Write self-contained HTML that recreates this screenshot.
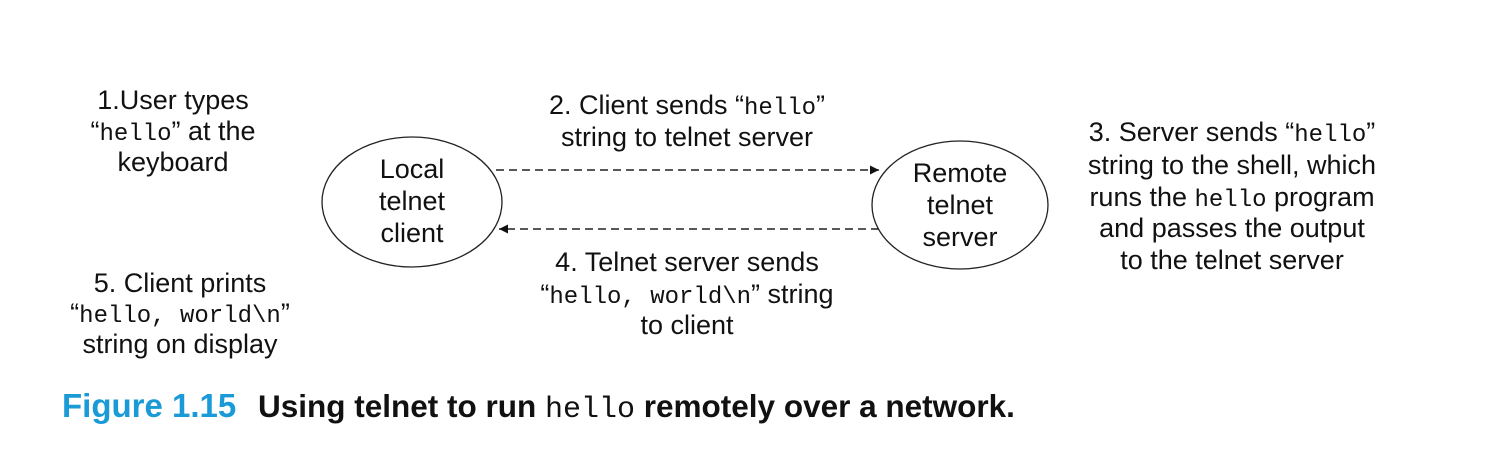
<!DOCTYPE html>
<html><head><meta charset="utf-8"><style>
html,body{margin:0;padding:0;background:#fff;}
svg{display:block;}
text{font-family:"Liberation Sans",sans-serif;font-size:27px;fill:#111;}
.m{font-family:"Liberation Mono",monospace;font-size:24px;}
</style></head><body>
<svg width="1486" height="472" viewBox="0 0 1486 472">
<defs><marker id="a" viewBox="0 0 10 10" refX="10" refY="5" markerWidth="9" markerHeight="9" orient="auto" markerUnits="userSpaceOnUse"><path d="M0,0L10,5L0,10z" fill="#111"/></marker></defs>
<ellipse cx="412" cy="202" rx="90" ry="65" fill="none" stroke="#222" stroke-width="1.3"/>
<ellipse cx="960" cy="205" rx="88" ry="64" fill="none" stroke="#222" stroke-width="1.3"/>
<line x1="496" y1="170" x2="879" y2="170" stroke="#222" stroke-width="1.5" stroke-dasharray="8,5" marker-end="url(#a)"/>
<line x1="879" y1="229" x2="499" y2="229" stroke="#222" stroke-width="1.5" stroke-dasharray="8,5" marker-end="url(#a)"/>
<g text-anchor="middle">
<text x="173" y="109">1.User types</text>
<text x="173" y="140">“<tspan class="m">hello</tspan>” at the</text>
<text x="173" y="171">keyboard</text>
<text x="180" y="292">5. Client prints</text>
<text x="180" y="322">“<tspan class="m">hello, world\n</tspan>”</text>
<text x="180" y="353">string on display</text>
<text x="687" y="114">2. Client sends “<tspan class="m">hello</tspan>”</text>
<text x="687" y="146">string to telnet server</text>
<text x="687" y="271">4. Telnet server sends</text>
<text x="687" y="303">“<tspan class="m">hello, world\n</tspan>” string</text>
<text x="687" y="334">to client</text>
<text x="1232" y="141">3. Server sends “<tspan class="m">hello</tspan>”</text>
<text x="1232" y="174">string to the shell, which</text>
<text x="1232" y="206">runs the <tspan class="m">hello</tspan> program</text>
<text x="1232" y="237">and passes the output</text>
<text x="1232" y="269">to the telnet server</text>
<text x="412" y="178">Local</text>
<text x="412" y="210">telnet</text>
<text x="412" y="242">client</text>
<text x="960" y="182">Remote</text>
<text x="960" y="214">telnet</text>
<text x="960" y="246">server</text>
</g>
<text x="62" y="417" style="font-size:33px;font-weight:bold;fill:#1a9ad6">Figure 1.15</text>
<text x="258" y="417" style="font-size:31.5px;font-weight:bold">Using telnet to run <tspan class="m" style="font-weight:normal;font-size:30px">hello</tspan> remotely over a network.</text>
</svg>
</body></html>
